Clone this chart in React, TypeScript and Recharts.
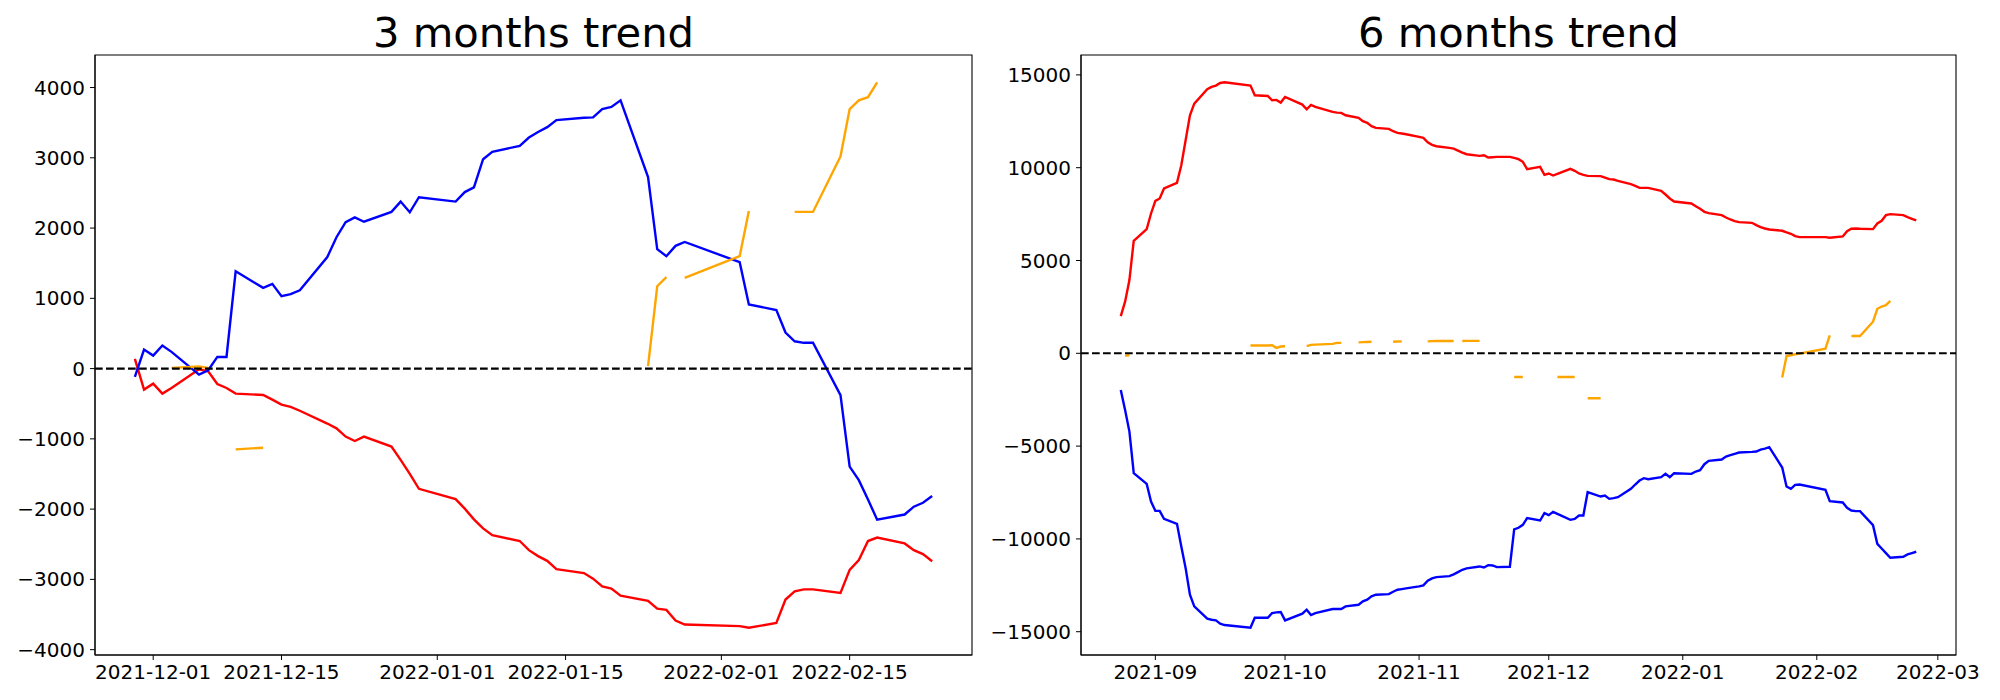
import React from 'react';
import { LineChart, Line, XAxis, YAxis, ReferenceLine, ReferenceArea } from 'recharts';

// Trading days, 6-month window
const dates6m = [
  '2021-08-24','2021-08-25','2021-08-26','2021-08-27','2021-08-30','2021-08-31',
  '2021-09-01','2021-09-02','2021-09-03','2021-09-06','2021-09-07','2021-09-08','2021-09-09','2021-09-10',
  '2021-09-13','2021-09-14','2021-09-15','2021-09-16','2021-09-17','2021-09-23','2021-09-24',
  '2021-09-27','2021-09-28','2021-09-29','2021-09-30',
  '2021-10-01','2021-10-05','2021-10-06','2021-10-07','2021-10-08','2021-10-12','2021-10-13','2021-10-14','2021-10-15',
  '2021-10-18','2021-10-19','2021-10-20','2021-10-21','2021-10-22','2021-10-25','2021-10-26','2021-10-27','2021-10-28','2021-10-29',
  '2021-11-01','2021-11-02','2021-11-03','2021-11-04','2021-11-05','2021-11-08','2021-11-09','2021-11-10','2021-11-11','2021-11-12',
  '2021-11-15','2021-11-16','2021-11-17','2021-11-18','2021-11-19','2021-11-22','2021-11-23','2021-11-24','2021-11-25','2021-11-26',
  '2021-11-29','2021-11-30',
  '2021-12-01','2021-12-02','2021-12-03','2021-12-06','2021-12-07','2021-12-08','2021-12-09','2021-12-10',
  '2021-12-13','2021-12-14','2021-12-15','2021-12-16','2021-12-17','2021-12-20','2021-12-21','2021-12-22','2021-12-23','2021-12-24',
  '2021-12-27','2021-12-28','2021-12-29','2021-12-30',
  '2022-01-03','2022-01-04','2022-01-05','2022-01-06','2022-01-07','2022-01-10','2022-01-11','2022-01-12','2022-01-13','2022-01-14',
  '2022-01-17','2022-01-18','2022-01-19','2022-01-20','2022-01-21','2022-01-24','2022-01-25','2022-01-26','2022-01-27','2022-01-28',
  '2022-02-03','2022-02-04','2022-02-07','2022-02-08','2022-02-09','2022-02-10','2022-02-11',
  '2022-02-14','2022-02-15','2022-02-16','2022-02-17','2022-02-18','2022-02-21','2022-02-22','2022-02-23','2022-02-24',
];

const red6m = [
  2007, 2779, 3944, 6062, 6690, 7533,
  8214, 8340, 8878, 9183, 10135, 11480, 12826, 13454, 14225, 14350, 14422, 14566, 14602, 14422, 13902, 13866, 13633, 13651, 13507,
  13812, 13400, 13149, 13382, 13274, 13005, 12969, 12951, 12826, 12682, 12503, 12413, 12233, 12144, 12090, 11964, 11874, 11839, 11803,
  11660, 11605, 11372, 11229, 11157, 11067, 11031, 10924, 10816, 10726, 10636, 10672, 10547, 10565, 10582, 10582, 10529, 10460, 10315, 9920, 10046, 9615,
  9687, 9579, 9669, 9938, 9830, 9687, 9615, 9561, 9543, 9471, 9381, 9363, 9291, 9112, 9022, 8914, 8914, 8914, 8752, 8555, 8340, 8178,
  8071, 7927, 7784, 7622, 7550, 7443, 7317, 7210, 7120, 7066, 7030, 6905, 6797, 6725, 6671, 6600, 6510, 6438, 6313, 6259,
  6259, 6223, 6295, 6582, 6708, 6726, 6708, 6690, 6995, 7138, 7443, 7497, 7443, 7335, 7246, 7156,
];

const blue6m = [
  -1975, -3052, -4218, -6460, -7034, -7985,
  -8487, -8487, -8918, -9187, -10407, -11573, -13008, -13636, -14300, -14354, -14390, -14570, -14641, -14785, -14246, -14246, -13995, -13959, -13941,
  -14390, -14031, -13816, -14103, -13995, -13780, -13780, -13780, -13636, -13546, -13367, -13277, -13098, -13008, -12972, -12846, -12739, -12703, -12667,
  -12559, -12505, -12254, -12128, -12057, -12003, -11913, -11788, -11662, -11590, -11483, -11537, -11411, -11429, -11519, -11500, -9490, -9400, -9241, -8882, -9008, -8613,
  -8721, -8541, -8649, -8972, -8918, -8738, -8738, -7482, -7716, -7662, -7841, -7805, -7751, -7303, -7069, -6854, -6728, -6782, -6674, -6495, -6674, -6459,
  -6495, -6369, -6298, -5975, -5795, -5723, -5562, -5490, -5418, -5346, -5310, -5292, -5186, -5132, -5060, -6155, -7177, -7303, -7087, -7069,
  -7356, -7967, -8039, -8326, -8469, -8505, -8505, -9259, -10263, -10514, -10764, -11015, -10961, -10836, -10764, -10692,
];

const orange6m = [
  null, -140, -90, null, null, null,
  null, null, null, null, null, null, null, null, null, null, null, null, null, 420, 420, 420, 435, 295, 365,
  380, null, 385, 455, 470, 505, 560, 560, null, 590, 600, 610, 625, null, null, 625, 635, 645, null,
  null, null, 645, 655, 660, 660, 660, null, 665, 670, 670, null, null, null, null, null, -1280, -1280, -1280, null, null, null,
  null, null, -1280, -1280, -1280, null, null, -2420, -2420, null, null, null, null, null, null, null, null, null, null, null, null, null,
  null, null, null, null, null, null, null, null, null, null, null, null, null, null, null, -1300, -144, -108, -54, -18,
  251, 969, null, null, 930, 930, 930, 1700, 2400, 2520, 2590, 2820, null, null, null, null,
];

// Trading days, 3-month window (from 2021-11-29)
const dates3m = dates6m.slice(dates6m.indexOf('2021-11-29'));

const red3m = [
  138, -299,
  -214, -356, -276, -10, -38, -219, -276, -356, -375, -442, -513, -546, -600, -782, -850, -968, -1030, -968, -1109, -1300, -1497, -1711,
  -1858, -1993, -2145, -2274, -2370, -2454, -2584, -2669, -2736, -2855, -2910, -2990, -3101, -3130, -3231, -3304, -3417, -3434, -3586, -3642,
  -3665, -3688, -3620, -3287, -3169, -3142, -3142, -3193, -2865, -2725, -2454, -2404, -2488, -2584, -2640, -2742,
];

const blue3m = [
  -119, 271,
  185, 328, 238, -86, -24, 166, 166, 1385, 1149, 1206, 1030, 1059, 1115, 1588, 1870, 2084, 2152, 2090, 2230, 2377, 2225, 2439,
  2377, 2512, 2579, 2980, 3086, 3170, 3288, 3368, 3436, 3537, 3571, 3576, 3694, 3723, 3818, 2726, 1701, 1600, 1747, 1802,
  1515, 912, 834, 513, 389, 367, 367, -377, -1396, -1588, -1863, -2150, -2077, -1965, -1909, -1813,
];

const orange3m = [
  null, null,
  null, null, 10, 30, 10, null, null, -1149, -1126, null, null, null, null, null, null, null, null, null, null, null, null, null,
  null, null, null, null, null, null, null, null, null, null, null, null, null, null, null, 34, 1172, 1301, null, 1290,
  1600, 2242, null, null, 2230, 2230, 2230, 3019, 3694, 3818, 3863, 4075, null, null, null, null,
];

const xTicks3m = ['2021-12-01', '2021-12-15', '2022-01-01', '2022-01-15', '2022-02-01', '2022-02-15'];
const xTicks6m = ['2021-09-01', '2021-10-01', '2021-11-01', '2021-12-01', '2022-01-01', '2022-02-01', '2022-03-01'];
const yTicks3m = [-4000, -3000, -2000, -1000, 0, 1000, 2000, 3000, 4000];
const yTicks6m = [-15000, -10000, -5000, 0, 5000, 10000, 15000];

const FONT = 'DejaVu Sans';

const ts = (s: string) => Date.UTC(+s.slice(0, 4), +s.slice(5, 7) - 1, +s.slice(8, 10));
const pad = (n: number) => (n < 10 ? '0' + n : '' + n);
const fmtDay = (v: number) => {
  const d = new Date(v);
  return `${d.getUTCFullYear()}-${pad(d.getUTCMonth() + 1)}-${pad(d.getUTCDate())}`;
};
const fmtMonth = (v: number) => {
  const d = new Date(v);
  return `${d.getUTCFullYear()}-${pad(d.getUTCMonth() + 1)}`;
};
const fmtY = (v: number) => (v < 0 ? '\u2212' + Math.abs(v) : String(v));

type Props = {
  title: string;
  left: number;
  width: number;
  dates: string[];
  red: (number | null)[];
  blue: (number | null)[];
  orange: (number | null)[];
  xTicks: string[];
  yTicks: number[];
  xFmt: (v: number) => string;
  yAxisWidth: number;
  marginRight: number;
};

function TrendChart(p: Props) {
  const data = p.dates.map((d, i) => ({ t: ts(d), red: p.red[i], blue: p.blue[i], orange: p.orange[i] }));
  const tMin = ts(p.dates[0]);
  const tMax = ts(p.dates[p.dates.length - 1]);
  const tPad = (tMax - tMin) * 0.05;
  const xDomain: [number, number] = [tMin - tPad, tMax + tPad];
  const vals = [...p.red, ...p.blue, ...p.orange].filter((v) => v !== null) as number[];
  const vMin = Math.min(...vals);
  const vMax = Math.max(...vals);
  const vPad = (vMax - vMin) * 0.05;
  const yDomain: [number, number] = [vMin - vPad, vMax + vPad];
  const W = p.width;
  const H = 700;
  const plotLeft = p.yAxisWidth;
  const plotRight = W - p.marginRight;
  const cx = (plotLeft + plotRight) / 2;
  const tickStyle = { fill: '#000', fontSize: 20, fontFamily: FONT };
  const lw = 2.4;
  return (
    <div style={{ position: 'absolute', left: p.left, top: 0, width: W, height: H }}>
      <svg style={{ position: 'absolute', left: 0, top: 0, overflow: 'visible' }} width={W} height={75}>
        <text x={cx} y={47} textAnchor="middle" fontFamily={FONT} fontSize={41.7} fill="#000">
          {p.title}
        </text>
      </svg>
      <LineChart width={W} height={H} data={data} margin={{ top: 55, right: p.marginRight, bottom: 0, left: 0 }}>
        <XAxis
          dataKey="t"
          type="number"
          domain={xDomain}
          allowDataOverflow
          ticks={p.xTicks.map(ts)}
          tickFormatter={p.xFmt}
          interval={0}
          height={45}
          tickSize={5}
          tickMargin={5}
          stroke="#000"
          tick={tickStyle}
        />
        <YAxis
          type="number"
          domain={yDomain}
          allowDataOverflow
          ticks={p.yTicks}
          tickFormatter={fmtY}
          interval={0}
          width={p.yAxisWidth}
          tickSize={5}
          tickMargin={5}
          stroke="#000"
          tick={tickStyle}
        />
        <ReferenceArea
          x1={xDomain[0]}
          x2={xDomain[1]}
          y1={yDomain[0]}
          y2={yDomain[1]}
          fill="none"
          fillOpacity={0}
          stroke="#000"
          strokeWidth={1.1}
          ifOverflow="visible"
        />
        <Line type="linear" dataKey="red" stroke="#ff0000" strokeWidth={lw} dot={false} isAnimationActive={false} connectNulls={false} />
        <Line type="linear" dataKey="blue" stroke="#0000ff" strokeWidth={lw} dot={false} isAnimationActive={false} connectNulls={false} />
        <Line type="linear" dataKey="orange" stroke="#ffa500" strokeWidth={lw} dot={false} isAnimationActive={false} connectNulls={false} />
        <ReferenceLine y={0} stroke="#000" strokeWidth={2.1} strokeDasharray="7.7 3.3" />
      </LineChart>
    </div>
  );
}

export default function App() {
  return (
    <div style={{ position: 'absolute', left: 0, top: 0, width: 2000, height: 700, background: '#fff' }}>
      <TrendChart
        title="3 months trend"
        left={0}
        width={1000}
        dates={dates3m}
        red={red3m}
        blue={blue3m}
        orange={orange3m}
        xTicks={xTicks3m}
        yTicks={yTicks3m}
        xFmt={fmtDay}
        yAxisWidth={95}
        marginRight={28}
      />
      <TrendChart
        title="6 months trend"
        left={960}
        width={1040}
        dates={dates6m}
        red={red6m}
        blue={blue6m}
        orange={orange6m}
        xTicks={xTicks6m}
        yTicks={yTicks6m}
        xFmt={fmtMonth}
        yAxisWidth={121}
        marginRight={44}
      />
    </div>
  );
}
